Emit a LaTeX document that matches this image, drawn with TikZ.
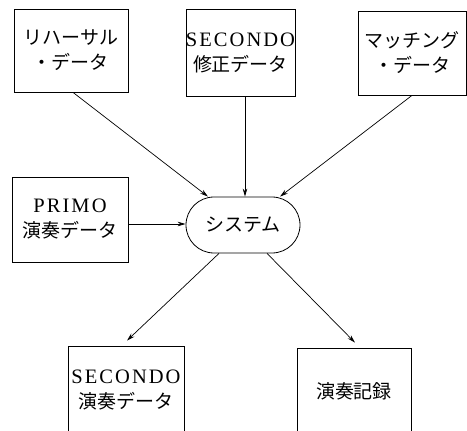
\documentclass[tikz,border=0pt]{standalone}
\usepackage{fontspec}
\newfontfamily\jp{Noto Sans CJK JP}
\newfontfamily\latf[LetterSpace=10]{Liberation Serif}
\usetikzlibrary{arrows.meta,shapes.misc}
\newcommand{\lat}[1]{{\fontsize{20.5}{25}\latf #1}}
\begin{document}
\begin{tikzpicture}[x=1pt,y=-1pt,
  box/.style={draw,line width=0.8pt,align=center,inner sep=0pt,font=\fontsize{19}{25}\selectfont},
  arr/.style={-{Stealth[length=8pt,width=4.5pt]},line width=0.7pt}]
\useasboundingbox (0,0) rectangle (467,431);
\clip (0,0) rectangle (467,431);
\node[box,minimum width=114pt,minimum height=83pt] (b1) at (71,50.5) {\jp リハーサル\\\jp ・データ};
\node[box,minimum width=105pt,minimum height=87pt] (b2) at (240.5,53) {\lat{SECONDO}\\\jp 修正データ};
\node[box,minimum width=108pt,minimum height=84pt] (b3) at (412,53) {\jp マッチング\\\jp ・データ};
\node[box,minimum width=116pt,minimum height=85pt] (p) at (70,219.5) {\lat{PRIMO}\\\jp 演奏データ};
\node[box,rounded rectangle,minimum width=114pt,minimum height=56pt] (sys) at (243,225) {\jp システム};
\node[box,minimum width=116pt,minimum height=88pt] (s1) at (126,390) {\lat{SECONDO}\\\jp 演奏データ};
\node[box,minimum width=114pt,minimum height=86pt] (s2) at (354,391) {\jp 演奏記録};
\draw[arr] ([xshift=2pt]b1.south) -- ([xshift=-35pt]sys.north);
\draw[arr] ([xshift=4.5pt]b2.south) -- ([xshift=2pt]sys.north);
\draw[arr] (b3.south) -- ([xshift=37pt]sys.north);
\draw[arr] ([yshift=-4.5pt]p.east) -- ([yshift=-4.5pt]p.east -| sys.west);
\draw[arr] ([xshift=-24pt]sys.south) -- ([xshift=1pt,yshift=5pt]s1.north);
\draw[arr] ([xshift=24pt]sys.south) -- ([xshift=1pt,yshift=5pt]s2.north);
\end{tikzpicture}
\end{document}
